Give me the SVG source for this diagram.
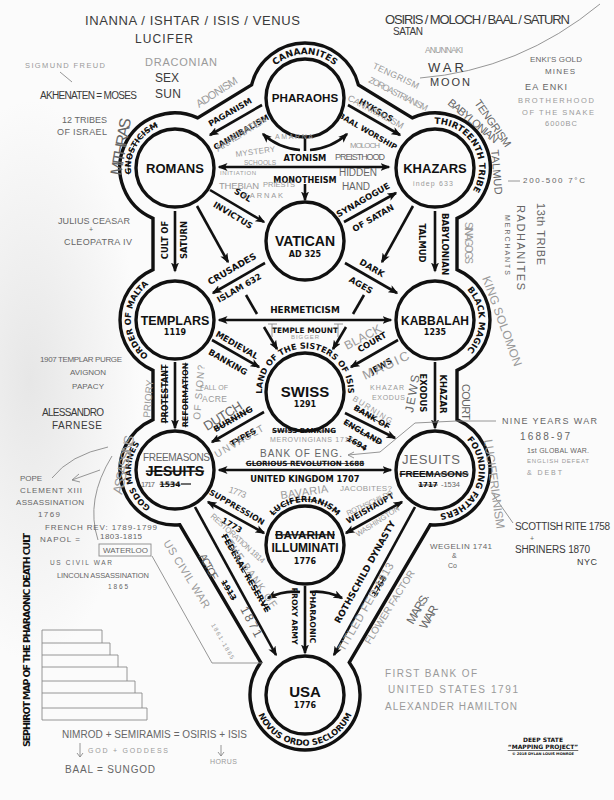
<svg xmlns="http://www.w3.org/2000/svg" width="614" height="800" viewBox="0 0 614 800">
<defs>
<style>
.ring{fill:none;stroke:#111;stroke-width:3.4}
.ln{fill:none;stroke:#111;stroke-width:2.6}
.arr{marker-end:url(#ah)}
.dbl{marker-start:url(#ah);marker-end:url(#ah)}
.nm{font-family:"Liberation Sans",Arial,sans-serif;font-weight:700;fill:#111;text-anchor:middle}
.yr{font-family:"DejaVu Sans",sans-serif;font-weight:700;font-size:8px;fill:#111;text-anchor:middle}
.lb{font-family:"DejaVu Sans",sans-serif;font-weight:700;fill:#111;text-anchor:middle}
.st{text-decoration:line-through}
.hw{font-family:"Liberation Sans Narrow","Liberation Sans",sans-serif;fill:#666}
.hd{fill:#3a3a3a}
.hl{fill:#9a9a9a}
.hln{fill:none;stroke:#8a8a8a;stroke-width:0.9}
</style>
<marker id="ah" viewBox="0 0 10 8" refX="8.5" refY="4" markerWidth="10" markerHeight="8" markerUnits="userSpaceOnUse" orient="auto-start-reverse"><path d="M0,0 L10,4 L0,8 L2.5,4 z" fill="#111"/></marker>
<radialGradient id="shade" cx="0.5" cy="0.5" r="0.5"><stop offset="0" stop-color="#d9d9d9" stop-opacity="0.6"/><stop offset="1" stop-color="#d9d9d9" stop-opacity="0"/></radialGradient>
<path id="pCan" d="M263.7,83 A44,44 0 0 1 346.3,83"/>
<path id="pGno" d="M136.9,190 A44,44 0 0 1 175,124"/>
<path id="pThi" d="M420,126.6 A44,44 0 0 1 463.3,201.7"/>
<path id="pMal" d="M160,361.4 A44,44 0 0 1 160,278.6"/>
<path id="pBla" d="M457,281.9 A44,44 0 0 1 457,358.1"/>
<path id="pGod" d="M167.4,513.3 A44,44 0 0 1 153,431.9"/>
<path id="pFou" d="M460.2,434 A44,44 0 0 1 431.2,513.8"/>
<path id="pNov" d="M257.5,712.3 A50.5,50.5 0 0 0 352.5,712.3"/>
<path id="pLan" d="M262.2,395.7 A43,43 0 1 1 347.8,395.7"/>
<path id="pLuc" d="M269.8,520.3 A43,43 0 0 1 340.2,520.3"/>
</defs>

<rect width="614" height="800" fill="#fbfbfb"/>
<ellipse cx="30" cy="380" rx="110" ry="280" fill="url(#shade)"/>

<g id="outline" font-size="8.4">
<path class="ring" d="M251.6,84.9 L197.7,117.9 A55,55 0 1 0 153,218.4 L153,269.6 A55,55 0 0 0 153,370.4 L153,419.6 A55,55 0 0 0 179.8,524.8 L260.7,662.4 A55,55 0 1 0 349.3,662.4 L430.2,524.8 A55,55 0 0 0 457,419.6 L457,370.4 A55,55 0 0 0 457,269.6 L457,218.4 A55,55 0 1 0 412.3,117.9 L358.4,84.9 A55,55 0 0 0 251.6,84.9 Z"/>
<text class="lb" font-size="9"><textPath href="#pCan" startOffset="50%">CANAANITES</textPath></text>
<text class="lb st" font-size="8.2"><textPath href="#pGno" startOffset="50%">GNOSTICISM</textPath></text>
<text class="lb" font-size="8.8"><textPath href="#pThi" startOffset="50%">THIRTEENTH TRIBE</textPath></text>
<text class="lb" font-size="8.4"><textPath href="#pMal" startOffset="50%">ORDER OF MALTA</textPath></text>
<text class="lb" font-size="8.6"><textPath href="#pBla" startOffset="50%">BLACK MAGIC</textPath></text>
<text class="lb" font-size="8.2"><textPath href="#pGod" startOffset="50%">GODS MARINES</textPath></text>
<text class="lb" font-size="8.6"><textPath href="#pFou" startOffset="50%">FOUNDING FATHERS</textPath></text>
<text class="lb" font-size="8.4"><textPath href="#pNov" startOffset="50%">NOVUS ORDO SECLORUM</textPath></text>
<text class="lb" font-size="8.2"><textPath href="#pLan" startOffset="50%">LAND OF THE SISTERS OF ISIS</textPath></text>
<text class="lb st" font-size="8.2"><textPath href="#pLuc" startOffset="50%">LUCIFERIANISM</textPath></text>
</g>

<g id="pharaohs"><circle class="ring" cx="305" cy="98" r="39"/><text class="nm" x="305" y="102" font-size="11.6">PHARAOHS</text></g>
<g id="romans"><circle class="ring" cx="175" cy="168" r="39"/><text class="nm" x="175" y="172.5" font-size="13">ROMANS</text></g>
<g id="khazars"><circle class="ring" cx="435" cy="168" r="39"/><text class="nm" x="435" y="172.5" font-size="13">KHAZARS</text></g>
<g id="vatican"><circle class="ring" cx="305" cy="241" r="39"/><text class="nm" x="305" y="246" font-size="14">VATICAN</text><text class="yr" x="305" y="256.5">AD 325</text></g>
<g id="templars"><circle class="ring" cx="175" cy="320" r="39"/><text class="nm" x="175" y="324.5" font-size="12.5">TEMPLARS</text><text class="yr" x="175" y="334.5">1119</text></g>
<g id="kabbalah"><circle class="ring" cx="435" cy="320" r="39"/><text class="nm" x="435" y="324.5" font-size="12">KABBALAH</text><text class="yr" x="435" y="334.5">1235</text></g>
<g id="swiss"><circle class="ring" cx="305" cy="392" r="39"/><text class="nm" x="305" y="396.5" font-size="15">SWISS</text><text class="yr" x="305" y="406.5">1291</text></g>
<g id="jesuits"><circle class="ring" cx="175" cy="470" r="39"/><text class="nm st" x="175" y="475.5" font-size="14">JESUITS</text><text class="yr st" x="170" y="486.5" style="font-size:7.5px">1534</text><path d="M181,484 H191" stroke="#111" stroke-width="1.2"/></g>
<g id="freemasons"><circle class="ring" cx="435" cy="470" r="39"/><text class="nm st" x="434" y="477" font-size="9.8">FREEMASONS</text><text class="yr st" x="428" y="487" style="font-size:7px">1717</text></g>
<g id="bavarian"><circle class="ring" cx="305" cy="545" r="39"/><text class="nm st" x="305" y="538.5" font-size="11.7">BAVARIAN</text><text class="nm" x="305" y="552" font-size="12">ILLUMINATI</text><text class="yr" x="305" y="563.5">1776</text></g>
<g id="usa"><circle class="ring" cx="305" cy="695" r="39"/><text class="nm" x="305" y="697" font-size="15">USA</text><text class="yr" x="305" y="707.5">1776</text></g>

<g id="connectors" font-size="8.4">
<line class="ln arr" x1="262" y1="105" x2="210" y2="135"/>
<line class="ln arr" x1="348" y1="105" x2="400" y2="135"/>
<line class="ln dbl" x1="219" y1="167" x2="389" y2="167"/>
<path class="ln" d="M305,137 V151"/>
<path class="ln arr" d="M300,150 Q278,148 263,134"/>
<path class="ln arr" d="M310,150 Q332,148 347,134"/>
<line class="ln arr" x1="305" y1="184" x2="305" y2="200"/>
<line class="ln arr" x1="210" y1="190" x2="264" y2="222"/>
<line class="ln arr" x1="344" y1="222" x2="396" y2="193"/>
<line class="ln arr" x1="175" y1="211" x2="175" y2="271"/>
<line class="ln arr" x1="435" y1="211" x2="435" y2="271"/>
<line class="ln arr" x1="197" y1="206" x2="228" y2="262"/>
<line class="ln" x1="246" y1="295" x2="257" y2="314"/>
<line class="ln arr" x1="264" y1="327" x2="277" y2="349"/>
<line class="ln arr" x1="413" y1="206" x2="382" y2="262"/>
<line class="ln" x1="364" y1="295" x2="353" y2="314"/>
<line class="ln arr" x1="346" y1="327" x2="333" y2="349"/>
<line class="ln arr" x1="265" y1="263" x2="213" y2="293"/>
<line class="ln arr" x1="345" y1="263" x2="397" y2="293"/>
<line class="ln dbl" x1="219" y1="320" x2="391" y2="320"/>
<line class="ln arr" x1="212" y1="340" x2="259" y2="367"/>
<line class="ln arr" x1="398" y1="340" x2="351" y2="367"/>
<line class="ln arr" x1="175" y1="362" x2="175" y2="428"/>
<line class="ln arr" x1="435" y1="362" x2="435" y2="428"/>
<line class="ln arr" x1="264" y1="412" x2="212" y2="442"/>
<line class="ln arr" x1="345" y1="413" x2="395" y2="438"/>
<line class="ln dbl" x1="219" y1="470" x2="391" y2="470"/>
<line class="ln dbl" x1="208" y1="502" x2="264" y2="533"/>
<line class="ln dbl" x1="346" y1="533" x2="402" y2="502"/>
<line class="ln arr" x1="195" y1="507" x2="276" y2="655"/>
<line class="ln arr" x1="415" y1="507" x2="334" y2="655"/>
<line class="ln arr" x1="305" y1="586" x2="305" y2="653"/>
<path class="ln arr" d="M300,592 Q284,590 268,598"/>
<path class="ln arr" d="M310,592 Q326,590 342,598"/>

<text class="lb" font-size="8.2" transform="translate(230,112) rotate(-30)" y="3">PAGANISM</text>
<text class="lb" font-size="8" transform="translate(241,132) rotate(-30)" y="3">CANNIBALISM</text>
<text class="lb" font-size="8.3" transform="translate(376,110) rotate(30)" y="3">HYKSOS</text>
<text class="lb" font-size="7.6" transform="translate(368,131) rotate(30)" y="3">BAAL WORSHIP</text>
<text class="lb" font-size="8.3" x="305" y="161">ATONISM</text>
<text class="lb" font-size="8.1" x="305" y="183">MONOTHEISM</text>
<text class="lb" transform="translate(243,195) rotate(31)" y="3">SOL</text>
<text class="lb" transform="translate(233,215) rotate(31)" y="3">INVICTUS</text>
<text class="lb" font-size="8.5" transform="translate(363,200) rotate(-30)" y="3">SYNAGOGUE</text>
<text class="lb" transform="translate(373,218) rotate(-30)" y="3">OF SATAN</text>
<text class="lb" transform="translate(165,240) rotate(-90)" y="3">CULT OF</text>
<text class="lb" transform="translate(184,240) rotate(-90)" y="3">SATURN</text>
<text class="lb" transform="translate(422,243) rotate(90)" y="3">TALMUD</text>
<text class="lb" font-size="8.6" transform="translate(445,244) rotate(90)" y="3">BABYLONIAN</text>
<text class="lb" font-size="9" transform="translate(232,269) rotate(-30)" y="3">CRUSADES</text>
<text class="lb" transform="translate(239,288) rotate(-30)" y="3">ISLAM 632</text>
<text class="lb" font-size="8.6" transform="translate(372,268) rotate(30)" y="3">DARK</text>
<text class="lb" font-size="8.6" transform="translate(361,285) rotate(30)" y="3">AGES</text>
<text class="lb" font-size="8.9" x="305" y="313">HERMETICISM</text>
<text class="lb" font-size="7.4" x="305" y="333">TEMPLE MOUNT</text>
<text class="lb" transform="translate(237,345) rotate(30)" y="3">MEDIEVAL</text>
<text class="lb" transform="translate(228,362) rotate(30)" y="3">BANKING</text>
<text class="lb" transform="translate(372,342) rotate(-30)" y="3">COURT</text>
<text class="lb" transform="translate(381,366) rotate(-30)" y="3">JEWS</text>
<text class="lb st" font-size="8" transform="translate(165,394) rotate(-90)" y="3">PROTESTANT</text>
<text class="lb st" font-size="7.9" transform="translate(185,395) rotate(-90)" y="3">REFORMATION</text>
<text class="lb" transform="translate(423,393) rotate(90)" y="3">EXODUS</text>
<text class="lb" transform="translate(443,394) rotate(90)" y="3">KHAZAR</text>
<text class="lb st" transform="translate(233,419) rotate(-30)" y="3">BURNING</text>
<text class="lb st" font-size="8" transform="translate(243,437) rotate(-30)" y="3">TYPES</text>
<text class="lb st" font-size="8" transform="translate(372,417) rotate(30)" y="3">BANK OF</text>
<text class="lb st" font-size="8" transform="translate(363,432) rotate(30)" y="3">ENGLAND</text>
<text class="lb st" font-size="8" transform="translate(357,443) rotate(30)" y="3">1694</text>
<text class="lb st" font-size="7" x="304" y="433">SWISS BANKING</text>
<text class="lb st" font-size="7.2" x="305" y="466">GLORIOUS REVOLUTION 1688</text>
<text class="lb" font-size="8.3" x="305" y="482">UNITED KINGDOM 1707</text>
<text class="lb" font-size="7.9" transform="translate(237,507) rotate(30)" y="3">SUPPRESSION</text>
<text class="lb" font-size="8" transform="translate(232,525) rotate(30)" y="3">1773</text>
<text class="lb" font-size="8" transform="translate(370,508) rotate(-30)" y="3">WEISHAUPT</text>
<text class="lb st" font-size="8.5" transform="translate(246,573) rotate(60)" y="3">FEDERAL RESERVE</text>
<text class="lb st" font-size="8" transform="translate(229,590) rotate(60)" y="3">1913</text>
<text class="lb" font-size="9" transform="translate(365,572) rotate(-61)" y="3">ROTHSCHILD DYNASTY</text>
<text class="lb st" font-size="8" transform="translate(379,586) rotate(-61)" y="3">1768</text>
<text class="lb" font-size="7.9" transform="translate(313,617) rotate(90)" y="3">PHARAONIC</text>
<text class="lb" font-size="7.7" transform="translate(295,616) rotate(90)" y="3">PROXY ARMY</text>
</g>

<g id="notes-lines">
<path class="hln" d="M60,72 L72,82"/>
<path class="hln" d="M420,78 Q520,70 600,4"/>
<path class="hln" d="M508,181 H520"/>
<path class="hln" d="M268,324 H277 M272,324 V337 M334,324 H343 M338,324 V337"/>
<path class="hln" d="M348,455 L380,452 M348,455 l6,-3 M348,455 l6,3"/>
<path class="hln" d="M380,452 L415,423 L457,421 L496,421"/>
<path class="hln" d="M492,493 L513,523"/>
<path class="hln" d="M108,447 Q70,455 52,478"/>
<path class="hln" d="M100,470 L72,480 l7,-6 M72,480 l8,2"/>
<path class="hln" d="M112,456 Q85,500 98,540"/>
<rect class="hln" x="99" y="544" width="52" height="12"/>
<path class="hln" d="M152,556 L212,663 L262,663"/>
<path class="hln" d="M80,743 V757 l-3,-4 M80,757 l3,-4"/>
<path class="hln" d="M221,745 V756 l-3,-4 M221,756 l3,-4"/>
<path class="hln" d="M42,630 H102 V643 H110 V655 H118 V667 H127 V681 H135 V693 H142 V708 H147 V720 H42 Z M42,643 H102 M42,655 H110 M42,667 H118 M42,681 H127 M42,693 H135 M42,708 H142"/>
</g>

<g id="notes" class="hw">
<text class="hd" x="85" y="25" font-size="13" textLength="215">INANNA / ISHTAR / ISIS / VENUS</text>
<text class="hd" x="135" y="43" font-size="12" textLength="58">LUCIFER</text>
<text class="hl" x="145" y="66" font-size="11" textLength="72">DRACONIAN</text>
<text class="hd" x="155" y="82" font-size="12" textLength="24">SEX</text>
<text class="hd" x="155" y="98" font-size="12" textLength="26">SUN</text>
<text class="hl" x="25" y="68" font-size="7.5" textLength="80">SIGMUND FREUD</text>
<text class="hd" x="40" y="99" font-size="10" textLength="97">AKHENATEN = MOSES</text>
<text x="62" y="123" font-size="9" textLength="45">12 TRIBES</text>
<text x="57" y="135" font-size="9" textLength="50">OF ISRAEL</text>
<text transform="translate(121,176) rotate(-80)" font-size="16" textLength="58">MITHRAS</text>
<text x="58" y="224" font-size="9" textLength="72">JULIUS CEASAR</text>
<text x="89" y="232" font-size="7">+</text>
<text x="64" y="245" font-size="9" textLength="68">CLEOPATRA IV</text>
<text class="hd" x="385" y="24" font-size="13" textLength="185">OSIRIS / MOLOCH / BAAL / SATURN</text>
<text class="hd" x="393" y="35" font-size="10" textLength="30">SATAN</text>
<text class="hl" x="425" y="53" font-size="8.5" textLength="38">ANUNNAKI</text>
<text class="hd" x="428" y="72" font-size="13" textLength="36">WAR</text>
<text class="hd" x="430" y="86" font-size="11" textLength="40">MOON</text>
<text x="530" y="62" font-size="8" textLength="52">ENKI'S GOLD</text>
<text x="545" y="74" font-size="8" textLength="30">MINES</text>
<text x="525" y="90" font-size="9" textLength="42">EA ENKI</text>
<text class="hl" x="518" y="103" font-size="7.5" textLength="76">BROTHERHOOD</text>
<text class="hl" x="522" y="115" font-size="7.5" textLength="72">OF THE SNAKE</text>
<text class="hl" x="545" y="126" font-size="7.5" textLength="32">6000BC</text>
<text x="523" y="183" font-size="8" textLength="62">200-500 7°C</text>
<text transform="translate(537,203) rotate(90)" font-size="11" textLength="62">13th TRIBE</text>
<text transform="translate(517,205) rotate(90)" font-size="11" textLength="85">RADHANITES</text>
<text transform="translate(505,215) rotate(90)" font-size="7" textLength="60">MERCHANTS</text>
<text transform="translate(474,103) rotate(55)" font-size="11" textLength="55">TENGRISM</text>
<text transform="translate(447,104) rotate(40)" font-size="11" textLength="62">BABYLONIAN</text>
<text transform="translate(491,150) rotate(85)" font-size="11" textLength="45">TALMUD</text>
<text class="hl" transform="translate(372,68) rotate(25)" font-size="9" textLength="50">TENGRISM</text>
<text class="hl" transform="translate(368,82) rotate(27)" font-size="9" textLength="65">ZOROASTRIANISM</text>
<text class="hl" transform="translate(347,100) rotate(28)" font-size="9" textLength="62">CANNIBALISM</text>
<text class="hl" x="413" y="186" font-size="7" textLength="40">indep 633</text>
<text class="hl" transform="translate(465,222) rotate(90)" font-size="10" textLength="42">SINAGOGS</text>
<text class="hl" transform="translate(482,278) rotate(70)" font-size="12" textLength="95">KING SOLOMON</text>
<text transform="translate(462,384) rotate(90)" font-size="11" textLength="36">COURT</text>
<text class="hl" transform="translate(199,108) rotate(-33)" font-size="11" textLength="47">ADONISM</text>
<text class="hl" transform="translate(218,152) rotate(-32)" font-size="10" textLength="58">AKHENATEN</text>
<text class="hl" x="275" y="139" font-size="7" textLength="38">AMARNA</text>
<text class="hl" transform="translate(236,157) rotate(-8)" font-size="8" textLength="40">MYSTERY</text>
<text class="hl" x="244" y="165" font-size="6.5" textLength="32">SCHOOLS</text>
<text x="335" y="160" font-size="9" textLength="50">PREISTHOOD</text>
<text class="hl" x="350" y="148" font-size="8" textLength="30">MOLOCH</text>
<text class="hl" x="220" y="175" font-size="6" textLength="36">INITIATION</text>
<text class="hl" x="219" y="189" font-size="9.5" textLength="40">THEBIAN</text>
<text class="hl" x="263" y="187" font-size="7.5" textLength="32">PRIESTS</text>
<text class="hl" x="243" y="198" font-size="7.5" textLength="40">KARNAK</text>
<text x="339" y="176" font-size="10" textLength="38">HIDDEN</text>
<text x="342" y="190" font-size="10" textLength="28">HAND</text>
<text class="hl" x="291" y="339" font-size="6" textLength="28">BIGGER</text>
<text class="hl" transform="translate(347,350) rotate(-28)" font-size="12" textLength="40">BLACK</text>
<text class="hl" transform="translate(365,380) rotate(-25)" font-size="13" textLength="50">MAGIC</text>
<text class="hl" x="370" y="390" font-size="7" textLength="34">KHAZAR</text>
<text class="hl" x="372" y="400" font-size="7" textLength="33">EXODUS</text>
<text transform="translate(413,413) rotate(-80)" font-size="12" textLength="38">JEWS</text>
<text class="hl" x="200" y="390" font-size="7" textLength="28">FALL OF</text>
<text class="hl" x="202" y="402" font-size="8.5" textLength="25">ACRE</text>
<text class="hl" transform="translate(150,418) rotate(-85)" font-size="10" textLength="38">PRIORY</text>
<text class="hl" transform="translate(200,420) rotate(-85)" font-size="10" textLength="55">OF SION?</text>
<text transform="translate(207,431) rotate(-32)" font-size="13" textLength="43">DUTCH</text>
<text class="hl" transform="translate(217,458) rotate(-30)" font-size="10" textLength="55">UNVAULT</text>
<text class="hl" x="270" y="442" font-size="7" textLength="83">MEROVINGIANS 1717</text>
<text x="260" y="457" font-size="10" textLength="82">BANK OF ENG.</text>
<text class="hl" transform="translate(352,400) rotate(32)" font-size="8" textLength="45">BURNING</text>
<text class="hl" transform="translate(228,492) rotate(20)" font-size="9" textLength="18">1773</text>
<text class="hl" transform="translate(281,499) rotate(-8)" font-size="11" textLength="48">BAVARIA</text>
<text class="hl" x="340" y="491" font-size="8" textLength="52">JACOBITES?</text>
<text class="hl" transform="translate(348,516) rotate(-25)" font-size="7.5" textLength="50">ROTHSCHILDS</text>
<text class="hl" transform="translate(358,537) rotate(-33)" font-size="7.5" textLength="50">WASHINGTON</text>
<text class="hl" transform="translate(210,517) rotate(42)" font-size="8" textLength="70">RESTORATION 1814</text>
<text class="hl" transform="translate(226,543) rotate(55)" font-size="10" textLength="80">THE BANK OF</text>
<text transform="translate(199,556) rotate(62)" font-size="10.5" textLength="28">ACT OF</text>
<text transform="translate(240,609) rotate(62)" font-size="12" textLength="33">1871</text>
<text class="hl" transform="translate(163,543) rotate(58)" font-size="11" textLength="78">US CIVIL WAR</text>
<text class="hl" transform="translate(211,625) rotate(60)" font-size="6" textLength="40">1861-1865</text>
<text class="hl" transform="translate(344,652) rotate(-60)" font-size="11" textLength="100">TITLED FED 1913</text>
<text class="hl" transform="translate(370,645) rotate(-58)" font-size="10" textLength="85">FLOWER FACTOR</text>
<text transform="translate(413,625) rotate(-60)" font-size="12" textLength="33">MARS.</text>
<text transform="translate(426,630) rotate(-60)" font-size="12" textLength="25">WAR</text>
<text x="40" y="362" font-size="8" textLength="82">1907 TEMPLAR PURGE</text>
<text x="70" y="375" font-size="8" textLength="36">AVIGNON</text>
<text x="72" y="389" font-size="8" textLength="32">PAPACY</text>
<text class="hd" x="42" y="416" font-size="10" textLength="62">ALESSANDRO</text>
<text class="hd" x="52" y="429" font-size="10" textLength="50">FARNESE</text>
<text class="hl" transform="translate(122,495) rotate(-78)" font-size="14" textLength="60">ASSASSINS</text>
<text x="20" y="481" font-size="8" textLength="22">POPE</text>
<text x="20" y="493" font-size="8" textLength="62">CLEMENT XIII</text>
<text x="16" y="505" font-size="8" textLength="68">ASSASSINATION</text>
<text x="38" y="517" font-size="8" textLength="22">1769</text>
<text x="45" y="530" font-size="8" textLength="112">FRENCH REV: 1789-1799</text>
<text x="40" y="542" font-size="8" textLength="40">NAPOL =</text>
<text x="100" y="539" font-size="8" textLength="42">1803-1815</text>
<text x="103" y="553" font-size="8" textLength="45">WATERLOO</text>
<text x="50" y="565" font-size="6.5" textLength="62">US CIVIL WAR</text>
<text x="57" y="578" font-size="7.5" textLength="92">LINCOLN ASSASSINATION</text>
<text x="108" y="589" font-size="6.5" textLength="20">1865</text>
<text x="62" y="738" font-size="10" textLength="185">NIMROD + SEMIRAMIS = OSIRIS + ISIS</text>
<text class="hl" x="88" y="753" font-size="7" textLength="80">GOD + GODDESS</text>
<text x="65" y="773" font-size="10" textLength="90">BAAL = SUNGOD</text>
<text class="hl" x="210" y="764" font-size="7" textLength="27">HORUS</text>
<text x="502" y="424" font-size="9" textLength="95">NINE YEARS WAR</text>
<text x="520" y="440" font-size="10" textLength="50">1688-97</text>
<text x="527" y="453" font-size="7" textLength="62">1st GLOBAL WAR.</text>
<text class="hl" x="527" y="463" font-size="6" textLength="62">ENGLISH DEFEAT</text>
<text class="hl" x="527" y="475" font-size="7" textLength="35">&amp; DEBT</text>
<text class="hd" x="515" y="530" font-size="10" textLength="95">SCOTTISH RITE 1758</text>
<text x="530" y="541" font-size="7">+</text>
<text class="hd" x="515" y="553" font-size="10" textLength="75">SHRINERS 1870</text>
<text class="hd" x="577" y="565" font-size="9" textLength="20">NYC</text>
<text x="430" y="549" font-size="8" textLength="62">WEGELIN 1741</text>
<text x="452" y="558" font-size="7">&amp;</text>
<text x="448" y="568" font-size="7">Co</text>
<text class="hl" transform="translate(484,440) rotate(82)" font-size="12" textLength="90">LUCIFERIANISM</text>
<text class="hl" x="385" y="677" font-size="10" textLength="92">FIRST BANK OF</text>
<text class="hl" x="388" y="693" font-size="10" textLength="130">UNITED STATES 1791</text>
<text class="hl" x="385" y="710" font-size="10" textLength="132">ALEXANDER HAMILTON</text>
<text x="143" y="461" font-size="10" textLength="67">FREEMASONS</text>
<text x="141" y="487" font-size="7.5" textLength="14">1717</text>
<text x="441" y="487" font-size="7.5" textLength="19">-1534</text>
<text x="402" y="464" font-size="13" textLength="58">JESUITS</text>
</g>

<g id="title" font-size="8.4">
<text class="lb" font-size="9.5" transform="translate(30,640) rotate(-90)" textLength="214">SEPHIROT MAP OF THE PHARAONIC DEATH CULT</text>
<text class="lb" font-size="6" x="543" y="742">DEEP STATE</text>
<text class="lb" font-size="6" x="543" y="749" text-decoration="underline">“MAPPING PROJECT”</text>
<text class="lb" font-size="3.6" x="543" y="755">© 2018 DYLAN LOUIS MONROE</text>
</g>
</svg>
